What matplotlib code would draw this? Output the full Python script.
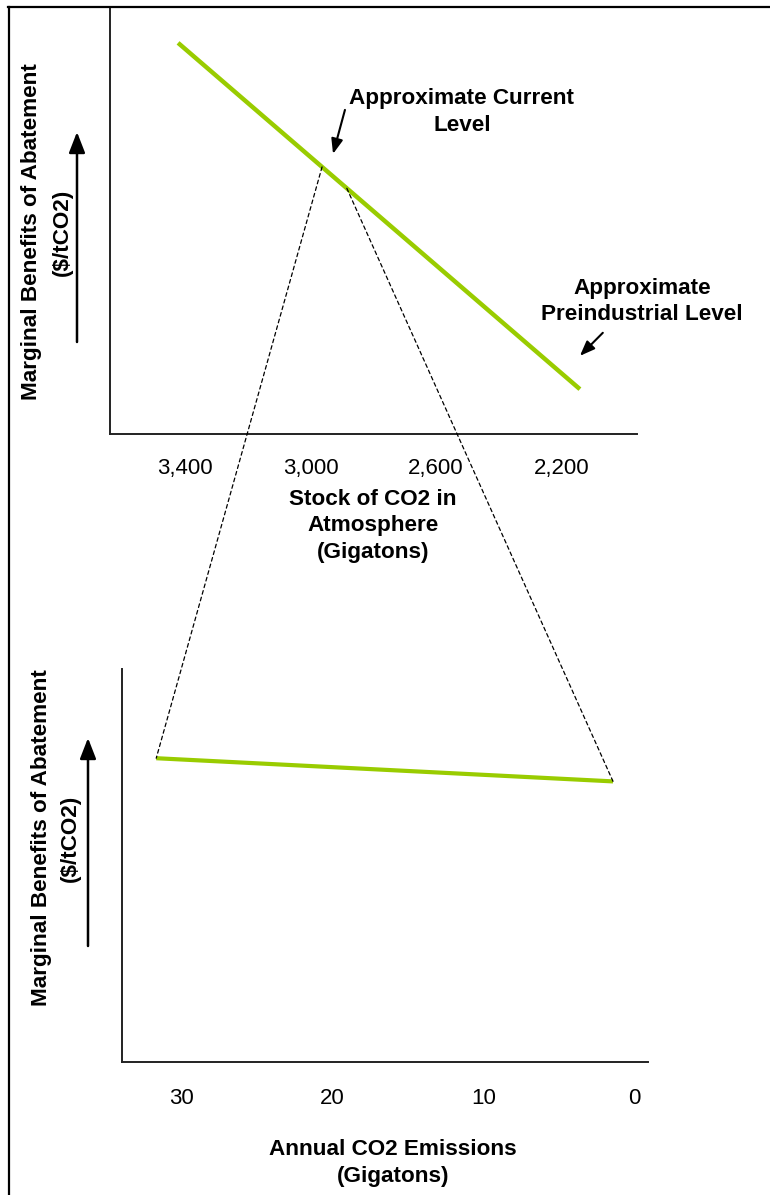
import numpy as np
import matplotlib
matplotlib.use("Agg")
import matplotlib.pyplot as plt
from matplotlib.patches import ConnectionPatch, FancyArrowPatch
from matplotlib.lines import Line2D

plt.rcParams['font.family'] = ['Liberation Sans', 'DejaVu Sans']

# top panel: marginal benefits vs stock of CO2 (schematic, arbitrary y units)
stock = [3422, 2141]
stock_mb = [91.6, 10.5]
stock_ticks = [3400, 3000, 2600, 2200]
stock_labels = ['3,400', '3,000', '2,600', '2,200']
# stretch of the stock curve covered by one year of emissions
current_stock = [2963, 2884]

# bottom panel: marginal benefits vs annual emissions
emis = [31.7, 1.4]
emis_mb = [77.3, 71.4]
emis_ticks = [30, 20, 10, 0]
emis_labels = ['30', '20', '10', '0']

GREEN = '#99CC00'
W, H = 770, 1195

fig = plt.figure(figsize=(W / 100, H / 100), dpi=100)


def fx(px):
    return px / W


def fy(py):
    return 1 - py / H


ax1 = fig.add_axes([fx(110), fy(434), fx(637) - fx(110), fy(7) - fy(434)])
ax2 = fig.add_axes([fx(122), fy(1062), fx(648) - fx(122), fy(669) - fy(1062)])

for ax in (ax1, ax2):
    ax.spines['top'].set_visible(False)
    ax.spines['right'].set_visible(False)
    for s in ('left', 'bottom'):
        ax.spines[s].set_linewidth(1.4)
        ax.spines[s].set_color('#222222')
    ax.set_yticks([])
    ax.set_ylim(0, 100)
    ax.patch.set_alpha(0)

ax1.plot(stock, stock_mb, color=GREEN, lw=3.2, solid_capstyle='butt')
ax1.set_xlim(3639, 1959)
ax1.set_xticks(stock_ticks, stock_labels)
ax1.tick_params(axis='x', length=0, pad=17, labelsize=16)

ax2.plot(emis, emis_mb, color=GREEN, lw=3.0, solid_capstyle='butt')
ax2.set_xlim(33.97, -0.92)
ax2.set_xticks(emis_ticks, emis_labels)
ax2.tick_params(axis='x', length=0, pad=19, labelsize=16)

# dashed lines linking the current level on the stock curve to the flow curve
cur_mb = np.interp(current_stock, stock[::-1], stock_mb[::-1])
for i in range(2):
    con = ConnectionPatch(xyA=(current_stock[i], cur_mb[i]), coordsA=ax1.transData,
                          xyB=(emis[i], emis_mb[i]), coordsB=ax2.transData,
                          color='black', lw=0.9, linestyle=(0, (3, 2.5)))
    fig.add_artist(con)

# annotations on top panel
bold = dict(fontsize=16.2, fontweight='bold', ha='center', va='center')
arrow = dict(arrowstyle='-|>,head_width=0.35,head_length=0.9',
             color='black', lw=1.5, shrinkA=0, shrinkB=0)
ax1.text(2517, 75.4, 'Approximate Current\nLevel', clip_on=False, linespacing=1.32, **bold)
ax1.annotate('', xy=(2928, 65.6), xytext=(2890, 75.9), arrowprops=arrow)
ax1.text(1943, 31.1, 'Approximate\nPreindustrial Level', clip_on=False, linespacing=1.32, **bold)
ax1.annotate('', xy=(2141, 18.3), xytext=(2068, 23.7), annotation_clip=False,
             arrowprops=arrow)

# axis titles
fig.text(fx(373), fy(526), 'Stock of CO2 in\nAtmosphere\n(Gigatons)', linespacing=1.32, **bold)
fig.text(fx(393), fy(1163), 'Annual CO2 Emissions\n(Gigatons)', linespacing=1.32, **bold)

for xa, xb, xarr, ytop, ybot, yc in ((32, 62, 77, 132, 342, 232),
                                     (42, 70, 88, 738, 946, 838)):
    fig.text(fx(xa), fy(yc), 'Marginal Benefits of Abatement', rotation=90, **bold)
    fig.text(fx(xb), fy(yc), '($/tCO2)', rotation=90, **bold)
    fig.add_artist(FancyArrowPatch(
        (fx(xarr), fy(ybot)), (fx(xarr), fy(ytop)), transform=fig.transFigure,
        arrowstyle='-|>,head_width=0.35,head_length=0.9', color='black',
        lw=1.8, mutation_scale=14, shrinkA=0, shrinkB=0))

# outer frame (top and left edges only)
fig.add_artist(Line2D([fx(8), 1], [fy(6.5), fy(6.5)], transform=fig.transFigure,
                      color='black', lw=1.6))
fig.add_artist(Line2D([fx(8.5), fx(8.5)], [fy(6.5), 0], transform=fig.transFigure,
                      color='black', lw=1.6))

fig.savefig('out.png', dpi=100)
